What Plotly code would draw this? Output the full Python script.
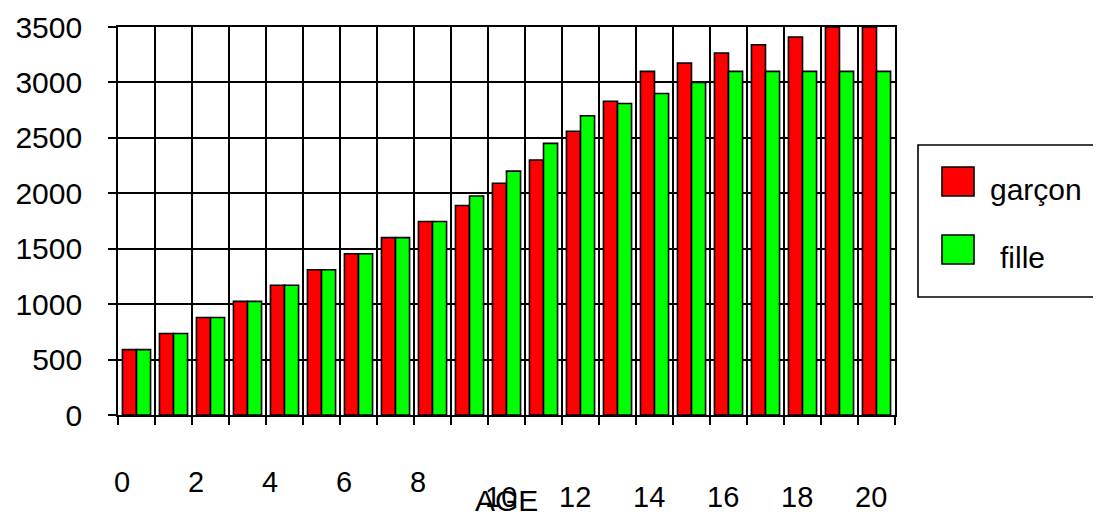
import plotly.graph_objects as go

# ---- data ----
ages = list(range(21))
garcon = [590, 735, 880, 1025, 1170, 1310, 1455, 1600, 1745, 1890, 2090,
          2300, 2560, 2830, 3100, 3175, 3265, 3340, 3410, 3500, 3500]
fille = [590, 735, 880, 1025, 1170, 1310, 1455, 1600, 1745, 1975, 2200,
         2450, 2700, 2810, 2900, 3000, 3100, 3100, 3100, 3100, 3100]
series_names = ["garçon", "fille"]
tick_labels = ["0", "2", "4", "6", "8", "10", "12", "14", "16", "18", "20"]
y_ticks = [0, 500, 1000, 1500, 2000, 2500, 3000, 3500]
x_title = "AGE"

RED = "#FF0000"
GREEN = "#00FF00"
FONT = "Liberation Sans"

# the page body has an 8px margin: the figure starts at (8, 8) on screen
OFF = 8
W, H = 1101 - OFF, 521 - OFF
# plot area in screen pixels
L, R, T, B = 118, 895, 27, 415

fig = go.Figure()
fig.add_trace(go.Bar(x=ages, y=garcon, name=series_names[0],
                     marker=dict(color=RED, line=dict(color="black", width=1.6))))
fig.add_trace(go.Bar(x=ages, y=fille, name=series_names[1],
                     marker=dict(color=GREEN, line=dict(color="black", width=1.6))))

# x ticks / grid at category boundaries
tickvals = [i - 0.5 for i in range(len(ages) + 1)]

fig.update_layout(
    width=W, height=H,
    margin=dict(l=L - OFF, r=(W + OFF) - R, t=T - OFF, b=(H + OFF) - B, pad=0,
                autoexpand=False),
    paper_bgcolor="white", plot_bgcolor="white",
    barmode="group", bargap=0.24, bargroupgap=0,
    showlegend=False,
    font=dict(family=FONT, size=29, color="black"),
    xaxis=dict(
        range=[-0.5, len(ages) - 0.5], automargin=False,
        tickmode="array", tickvals=tickvals, showticklabels=False,
        showgrid=True, gridcolor="black", gridwidth=1.6,
        showline=True, linecolor="black", linewidth=1.6, mirror=True,
        ticks="outside", ticklen=8, tickcolor="black", tickwidth=1.6,
        zeroline=False,
    ),
    yaxis=dict(
        range=[0, 3500], automargin=False,
        tickmode="array", tickvals=y_ticks,
        showgrid=True, gridcolor="black", gridwidth=1.6,
        showline=True, linecolor="black", linewidth=1.6, mirror=True,
        ticks="outside", ticklen=8, tickcolor="black", tickwidth=1.6,
        ticklabelstandoff=20,
        zeroline=False,
        tickfont=dict(family=FONT, size=30, color="black"),
    ),
)

def px(xp):
    return (xp - L) / (R - L)

def py(yp):
    return (B - yp) / (B - T)

# x tick labels (staggered rows, as in the original)
for t in tick_labels:
    a = int(t)
    if a < 10:
        xv, yp = a - 0.4, 482
    else:
        xv, yp = a - 0.15, 497
    fig.add_annotation(text=t, xref="x", yref="paper", x=xv, y=py(yp),
                       xanchor="center", yanchor="middle", showarrow=False,
                       font=dict(family=FONT, size=29, color="black"))

# axis title
fig.add_annotation(text=x_title, xref="paper", yref="paper",
                   x=px(506), y=py(500), xanchor="center", yanchor="middle",
                   showarrow=False, font=dict(family=FONT, size=30, color="black"))

# custom legend
fig.add_shape(type="rect", xref="paper", yref="paper",
              x0=px(918), x1=px(1112), y0=py(297), y1=py(145),
              line=dict(color="black", width=1.6), fillcolor="white")
for name, col, y0, y1, tx, ty in [(series_names[0], RED, 167, 196, 988, 190),
                                  (series_names[1], GREEN, 235, 264, 998, 257)]:
    fig.add_shape(type="rect", xref="paper", yref="paper",
                  x0=px(942), x1=px(974), y0=py(y1), y1=py(y0),
                  line=dict(color="black", width=1.6), fillcolor=col)
    fig.add_annotation(text=name, xref="paper", yref="paper",
                       x=px(tx), y=py(ty), xanchor="left", yanchor="middle",
                       showarrow=False, font=dict(family=FONT, size=30, color="black"))

fig.write_html("out.html")
